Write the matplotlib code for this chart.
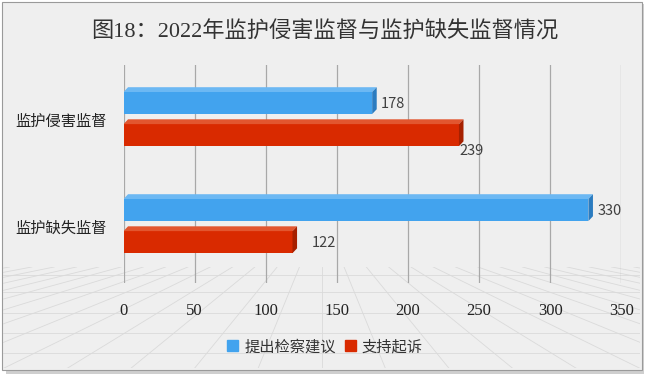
import matplotlib
matplotlib.use("Agg")
import numpy as np
import matplotlib.pyplot as plt
from matplotlib.patches import Polygon, Rectangle

categories = ["监护侵害监督", "监护缺失监督"]
series_names = ["提出检察建议", "支持起诉"]
suggest = [178, 330]
support = [239, 122]
xticks = [0, 50, 100, 150, 200, 250, 300, 350]

face = ["#42a3ee", "#d92a00"]
top = ["#6cb8f3", "#e2562f"]
side = ["#2b7cc0", "#a62000"]

cjk = ["Noto Sans CJK SC", "DejaVu Sans"]
serif = ["Liberation Serif", "Noto Sans CJK SC"]

fig = plt.figure(figsize=(6.5, 3.76), dpi=100)
fig.patch.set_facecolor("white")
# frame with a soft shadow
fig.add_artist(Rectangle((6 / 650, 0.005), 0.99 - 6 / 650, 0.985, transform=fig.transFigure,
                         facecolor="#cfcfcf", edgecolor="none", zorder=-3))
fig.add_artist(Rectangle((2 / 650, 0.015), 0.985, 0.98, transform=fig.transFigure,
                         facecolor="#efefef", edgecolor="#9a9a9a", lw=0.8, zorder=-2))

# faint perspective floor at the bottom
floor = fig.add_axes([0.005, 0.02, 0.98, 0.27], zorder=-1)
floor.set_xlim(0, 1)
floor.set_ylim(0, 1)
floor.axis("off")
for x0 in np.linspace(-1.5, 2.5, 41):
    floor.plot([0.5 + (x0 - 0.5) * 0.35, x0], [1, 0], color="#dadada", lw=0.6)
for yy in [0.15, 0.35, 0.55, 0.75, 0.92]:
    floor.axhline(yy, color="#dadada", lw=0.6)

ax = fig.add_axes([0.19, 0.247, 0.766, 0.58])
ax.set_facecolor("none")
ax.set_xlim(0, 350)
ax.set_ylim(-0.533, 1.505)

ypos = np.array([1, 0])
h = 0.206
off = 0.15
dx, dy = 3.2, 0.045


def bar3d(y, v, i):
    # front face stops short so the bevelled end lands on the value
    ax.barh(y, v - dx, height=h, color=face[i], zorder=3)
    ax.add_patch(Polygon([(0, y + h / 2), (v - dx, y + h / 2), (v, y + h / 2 + dy), (dx, y + h / 2 + dy)],
                         closed=True, facecolor=top[i], edgecolor="none", zorder=3))
    ax.add_patch(Polygon([(v - dx, y - h / 2), (v, y - h / 2 + dy), (v, y + h / 2 + dy), (v - dx, y + h / 2)],
                         closed=True, facecolor=side[i], edgecolor="none", zorder=3))


for k, y in enumerate(ypos):
    bar3d(y + off, suggest[k], 0)
    bar3d(y - off, support[k], 1)

lab = dict(fontsize=10.5, color="#404040", family=cjk, zorder=5)
ax.text(suggest[0] + 3, ypos[0] + off - 0.01, str(suggest[0]), va="center", **lab)
ax.text(support[0] - 3, ypos[0] - off - 0.15, str(support[0]), va="center", **lab)
ax.text(suggest[1] + 3, ypos[1] + off - 0.01, str(suggest[1]), va="center", **lab)
ax.text(support[1] + 10, ypos[1] - off - 0.01, str(support[1]), va="center", **lab)

ax.set_xticks(xticks)
ax.set_xticklabels([str(t) for t in xticks], family=serif, fontsize=12, color="#222222")
ax.tick_params(axis="x", length=0, pad=14)
ax.set_yticks(ypos)
ax.set_yticklabels(categories, family=cjk, fontsize=11, color="#222222")
ax.tick_params(axis="y", length=0, pad=12)
ax.grid(axis="x", color="#a8a8a8", lw=0.9, zorder=0)
for s in ax.spines.values():
    s.set_visible(False)

fig.text(0.5, 0.915, "图18：2022年监护侵害监督与监护缺失监督情况", ha="center", va="center",
         fontsize=16, family=serif, color="#333333")

handles = [Rectangle((0, 0), 1, 1, color=face[0]), Rectangle((0, 0), 1, 1, color=face[1])]
fig.legend(handles, series_names, loc="center", bbox_to_anchor=(0.5, 0.078), ncol=2, frameon=False,
           prop={"family": cjk, "size": 11}, handlelength=0.7, handleheight=0.7,
           handletextpad=0.4, columnspacing=0.6, labelcolor="#333333")

fig.savefig("out.png", dpi=100)
